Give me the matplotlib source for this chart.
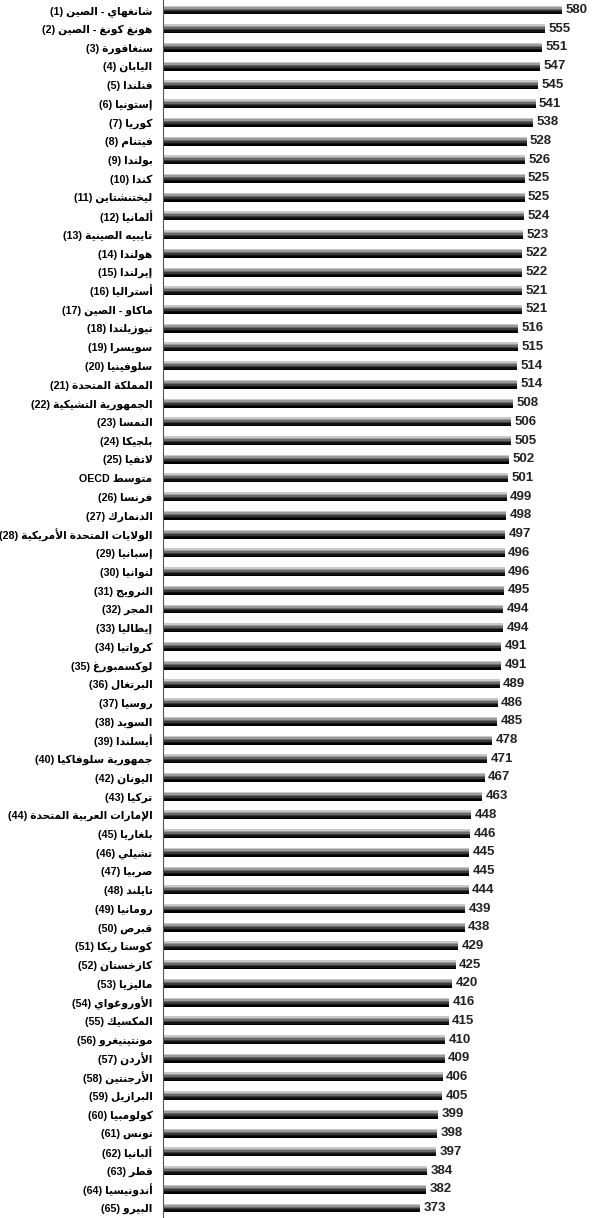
import numpy as np
import matplotlib
matplotlib.use('Agg')
import matplotlib.pyplot as plt

# البيانات
names = ['شانغهاي - الصين', 'هونغ كونغ - الصين', 'سنغافورة', 'اليابان', 'فنلندا',
         'إستونيا', 'كوريا', 'فيتنام', 'بولندا', 'كندا', 'ليختنشتاين', 'ألمانيا',
         'تايبيه الصينية', 'هولندا', 'إيرلندا', 'أستراليا', 'ماكاو - الصين',
         'نيوزيلندا', 'سويسرا', 'سلوفينيا', 'المملكة المتحدة', 'الجمهورية التشيكية',
         'النمسا', 'بلجيكا', 'لاتفيا', 'متوسط', 'فرنسا', 'الدنمارك',
         'الولايات المتحدة الأمريكية', 'إسبانيا', 'لتوانيا', 'النرويج', 'المجر',
         'إيطاليا', 'كرواتيا', 'لوكسمبورغ', 'البرتغال', 'روسيا', 'السويد', 'أيسلندا',
         'جمهورية سلوفاكيا', 'اليونان', 'تركيا', 'الإمارات العربية المتحدة', 'بلغاريا',
         'تشيلي', 'صربيا', 'تايلند', 'رومانيا', 'قبرص', 'كوستا ريكا', 'كازخستان',
         'ماليزيا', 'الأوروغواي', 'المكسيك', 'مونتينيغرو', 'الأردن', 'الأرجنتين',
         'البرازيل', 'كولومبيا', 'تونس', 'ألبانيا', 'قطر', 'أندونيسيا', 'البيرو']
ranks = [1, 2, 3, 4, 5, 6, 7, 8, 9, 10, 11, 12, 13, 14, 15, 16, 17, 18, 19, 20,
         21, 22, 23, 24, 25, 0, 26, 27, 28, 29, 30, 31, 32, 33, 34, 35, 36, 37, 38,
         39, 40, 42, 43, 44, 45, 46, 47, 48, 49, 50, 51, 52, 53, 54, 55, 56, 57, 58,
         59, 60, 61, 62, 63, 64, 65]
scores = [580, 555, 551, 547, 545, 541, 538, 528, 526, 525, 525, 524, 523, 522, 522,
          521, 521, 516, 515, 514, 514, 508, 506, 505, 502, 501, 499, 498, 497, 496,
          496, 495, 494, 494, 491, 491, 489, 486, 485, 478, 471, 467, 463, 448, 446,
          445, 445, 444, 439, 438, 429, 425, 420, 416, 415, 410, 409, 406, 405, 399,
          398, 397, 384, 382, 373]

# تشكيل الحروف العربية (matplotlib لا يقوم بذلك)
DUAL = {'ب': 0xFE8F, 'ت': 0xFE95, 'ث': 0xFE99, 'ج': 0xFE9D, 'ح': 0xFEA1, 'خ': 0xFEA5,
        'س': 0xFEB1, 'ش': 0xFEB5, 'ص': 0xFEB9, 'ض': 0xFEBD, 'ط': 0xFEC1, 'ظ': 0xFEC5,
        'ع': 0xFEC9, 'غ': 0xFECD, 'ف': 0xFED1, 'ق': 0xFED5, 'ك': 0xFED9, 'ل': 0xFEDD,
        'م': 0xFEE1, 'ن': 0xFEE5, 'ه': 0xFEE9, 'ي': 0xFEF1, 'ئ': 0xFE89}
RIGHT = {'ا': 0xFE8D, 'أ': 0xFE83, 'إ': 0xFE87, 'آ': 0xFE81, 'ة': 0xFE93, 'د': 0xFEA9,
         'ذ': 0xFEAB, 'ر': 0xFEAD, 'ز': 0xFEAF, 'و': 0xFEED, 'ى': 0xFEEF, 'ؤ': 0xFE85}
LAMALEF = {'آ': 0xFEF5, 'أ': 0xFEF7, 'إ': 0xFEF9, 'ا': 0xFEFB}


def shape(text):
    out = []
    prev_joins = False
    i = 0
    while i < len(text):
        c = text[i]
        nxt = text[i + 1] if i + 1 < len(text) else ''
        if c == 'ل' and nxt in LAMALEF:
            out.append(chr(LAMALEF[nxt] + (1 if prev_joins else 0)))
            prev_joins = False
            i += 2
            continue
        if c in DUAL:
            next_ok = nxt in DUAL or nxt in RIGHT
            base = DUAL[c]
            if prev_joins and next_ok:
                g = base + 3
            elif prev_joins:
                g = base + 1
            elif next_ok:
                g = base + 2
            else:
                g = base
            out.append(chr(g))
            prev_joins = next_ok
        elif c in RIGHT:
            out.append(chr(RIGHT[c] + (1 if prev_joins else 0)))
            prev_joins = False
        else:
            out.append(c)
            prev_joins = False
        i += 1
    return ''.join(out)[::-1]


labels = []
for n, r in zip(names, ranks):
    if r == 0:
        labels.append('OECD ' + shape(n))
    else:
        labels.append('(%d) ' % r + shape(n))

plt.rcParams['font.family'] = ['Liberation Sans', 'DejaVu Sans']

fig = plt.figure(figsize=(5.92, 12.18), dpi=100)
ax = fig.add_axes([163 / 592, 0, 1 - 163 / 592, 1])

y = np.arange(len(scores))
shades = ['#c8c8c8', '#9a9a9a', '#6a6a6a', '#3a3a3a', '#111111', '#000000']
h = 0.48
k = len(shades)
for j, col in enumerate(shades):
    ax.barh(y - h / 2 + (j + 0.5) * h / k, scores, height=h / k, color=col,
            linewidth=0)

for yi, v in zip(y, scores):
    ax.text(v + 5, yi, str(v), va='center', ha='left', fontsize=9.5,
            fontweight='bold', color='#222222')

ax.set_xlim(0, 623)
ax.set_ylim(64 + 10 / 18.72, -10 / 18.72)
ax.set_xticks([])
ax.set_yticks(y, labels, fontsize=7.7, fontweight='bold')
ax.tick_params(axis='y', length=0, pad=7.5)
for s in ['top', 'right', 'bottom']:
    ax.spines[s].set_visible(False)
ax.spines['left'].set_color('#555555')

fig.savefig('out.png', dpi=100)
